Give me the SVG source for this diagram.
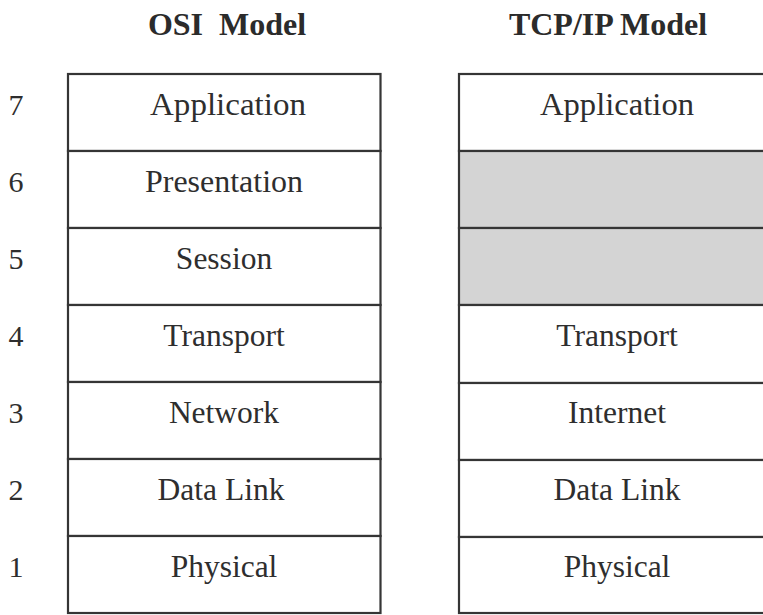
<svg xmlns="http://www.w3.org/2000/svg" width="763" height="615" viewBox="0 0 763 615">
  <style>
    .title { font-family: "Liberation Serif", "Times New Roman", serif; font-weight: bold; font-size: 32px; fill: #2b2b2b; text-anchor: middle; }
    .lbl { font-family: "Liberation Serif", "Times New Roman", serif; font-size: 31.5px; fill: #2e2e2e; text-anchor: middle; }
    .num { font-family: "Liberation Serif", "Times New Roman", serif; font-size: 30px; fill: #2e2e2e; text-anchor: middle; }
    .cell { fill: #ffffff; stroke: #353535; stroke-width: 2.2; }
    .shade { fill: #d4d4d4; stroke: #353535; stroke-width: 2.2; }
  </style>
  <rect width="763" height="615" fill="#ffffff"/>

  <text class="title" x="227" y="35" xml:space="preserve">OSI  Model</text>
  <text class="title" x="608" y="35">TCP/IP Model</text>

  <!-- layer numbers -->
  <g id="numbers">
    <text class="num" x="16" y="115">7</text>
    <text class="num" x="16" y="192">6</text>
    <text class="num" x="16" y="269">5</text>
    <text class="num" x="16" y="346">4</text>
    <text class="num" x="16" y="423">3</text>
    <text class="num" x="16" y="500">2</text>
    <text class="num" x="16" y="577">1</text>
  </g>

  <!-- OSI stack -->
  <g id="osi-application"><rect class="cell" x="68" y="74" width="312.5" height="77"/><text class="lbl" x="228" y="115" textLength="156" lengthAdjust="spacingAndGlyphs">Application</text></g>
  <g id="osi-presentation"><rect class="cell" x="68" y="151" width="312.5" height="77"/><text class="lbl" x="224" y="192" textLength="158" lengthAdjust="spacingAndGlyphs">Presentation</text></g>
  <g id="osi-session"><rect class="cell" x="68" y="228" width="312.5" height="77"/><text class="lbl" x="224" y="269">Session</text></g>
  <g id="osi-transport"><rect class="cell" x="68" y="305" width="312.5" height="77"/><text class="lbl" x="224" y="346">Transport</text></g>
  <g id="osi-network"><rect class="cell" x="68" y="382" width="312.5" height="77"/><text class="lbl" x="224" y="423">Network</text></g>
  <g id="osi-datalink"><rect class="cell" x="68" y="459" width="312.5" height="77"/><text class="lbl" x="221" y="500">Data Link</text></g>
  <g id="osi-physical"><rect class="cell" x="68" y="536" width="312.5" height="77"/><text class="lbl" x="224" y="577">Physical</text></g>

  <!-- TCP/IP stack -->
  <g id="tcp-application"><rect class="cell" x="459" y="74" width="320" height="77"/><text class="lbl" x="617" y="115" textLength="154" lengthAdjust="spacingAndGlyphs">Application</text></g>
  <g id="tcp-empty6"><rect class="shade" x="459" y="151" width="320" height="77"/></g>
  <g id="tcp-empty5"><rect class="shade" x="459" y="228" width="320" height="77"/></g>
  <g id="tcp-transport"><rect class="cell" x="459" y="305" width="320" height="78"/><text class="lbl" x="617" y="346">Transport</text></g>
  <g id="tcp-internet"><rect class="cell" x="459" y="383" width="320" height="77"/><text class="lbl" x="617" y="423">Internet</text></g>
  <g id="tcp-datalink"><rect class="cell" x="459" y="460" width="320" height="77"/><text class="lbl" x="617" y="500">Data Link</text></g>
  <g id="tcp-physical"><rect class="cell" x="459" y="537" width="320" height="76"/><text class="lbl" x="617" y="577">Physical</text></g>

  <g id="connectors"></g>
</svg>
